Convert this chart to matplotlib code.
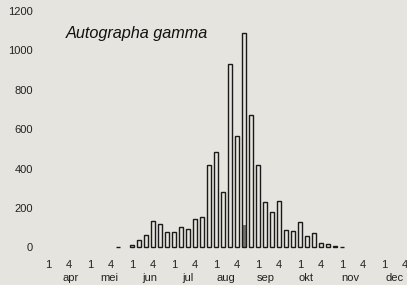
import numpy as np
import matplotlib.pyplot as plt

plt.rcParams['font.family'] = ['Liberation Sans', 'DejaVu Sans']

# 6 periods per month, apr period 1 = index 0
period_idx = [10, 12, 13, 14, 15, 16, 17, 18, 19, 20, 21, 22, 23, 24, 25, 26,
              27, 28, 29, 30, 31, 32, 33, 34, 35, 36, 37, 38, 39, 40, 41, 42]
counts = [5, 12, 40, 65, 135, 118, 80, 80, 105, 95, 143, 156, 418, 485, 280, 928,
          565, 1085, 670, 418, 229, 181, 235, 89, 85, 128, 60, 72, 21, 16, 9, 4]
# darker patch at the foot of the peak bar
dark_idx = [28]
dark_counts = [115]

months = ['apr', 'mei', 'jun', 'jul', 'aug', 'sep', 'okt', 'nov', 'dec']
month_pos = [3.3, 8.7, 14.6, 20.0, 25.4, 31.1, 36.9, 43.2, 49.5]
yticks = [0, 200, 400, 600, 800, 1000, 1200]

bg = '#e6e4de'
ink = '#222222'
fig = plt.figure(figsize=(4.07, 2.85), dpi=100, facecolor=bg)
ax = fig.add_axes([40 / 407, 1 - 255 / 285, 367 / 407, 250 / 285])
ax.set_facecolor(bg)

ax.bar(dark_idx, dark_counts, width=0.55, color='#74726d', edgecolor='none', zorder=1)
ax.bar(period_idx, counts, width=0.7, facecolor='none', edgecolor='#1a1a1a',
       linewidth=1.0, zorder=2)

ax.set_xlim(-8 / 7, 359 / 7)
ax.set_ylim(-38, 1228)
for s in ax.spines.values():
    s.set_visible(False)

ax.set_yticks(yticks)
ax.set_yticklabels([str(v) for v in yticks], fontsize=8, color=ink)
ax.tick_params(axis='y', length=0, pad=5)
ax.set_xticks([])

# period ticks "1" and "4" plus month names
for m in range(len(months)):
    ax.text(m * 6, -88, '1', ha='center', va='center', fontsize=8, color=ink)
    ax.text(m * 6 + 3, -88, '4', ha='center', va='center', fontsize=8, color=ink)
    ax.text(month_pos[m], -155, months[m], ha='center', va='center', fontsize=8,
            color=ink)

ax.text(2.6, 1085, 'Autographa gamma', style='italic', fontsize=11.7,
        color='#111111', ha='left', va='center')

fig.savefig('out.png', dpi=100, facecolor=bg)
